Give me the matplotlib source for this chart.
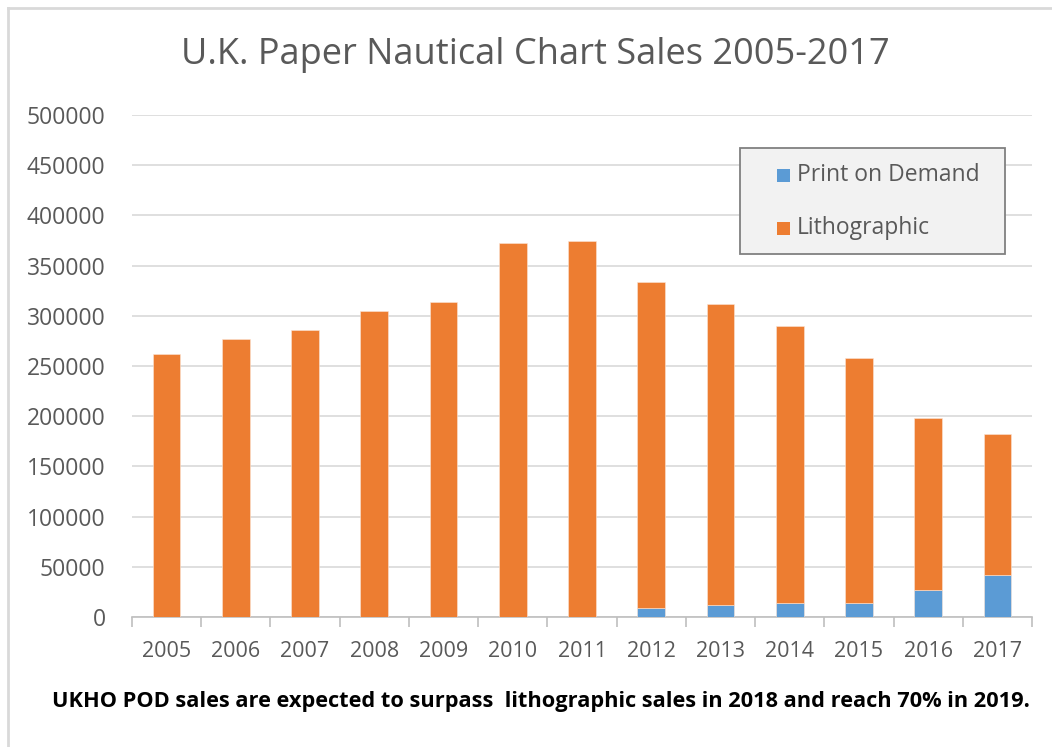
import matplotlib
matplotlib.use("Agg")
import matplotlib.pyplot as plt
from matplotlib.lines import Line2D
from matplotlib.patches import Rectangle
import numpy as np

years = ["2005", "2006", "2007", "2008", "2009", "2010", "2011",
         "2012", "2013", "2014", "2015", "2016", "2017"]
total_sales = [262000, 277000, 286000, 305000, 314000, 372500, 374500,
               333500, 311500, 290000, 257500, 198500, 182500]
pod_sales = [0, 0, 0, 0, 0, 0, 0, 9000, 11500, 13500, 13500, 26500, 42000]
litho_sales = [t - p for t, p in zip(total_sales, pod_sales)]
yticks = [0, 50000, 100000, 150000, 200000, 250000, 300000, 350000, 400000, 450000, 500000]
series_names = ["Print on Demand", "Lithographic"]

title = "U.K. Paper Nautical Chart Sales 2005-2017"
footnote = "UKHO POD sales are expected to surpass  lithographic sales in 2018 and reach 70% in 2019."

BLUE = "#5B9BD5"
ORANGE = "#ED7D31"
TXT = "#595959"
GRID = "#D9D9D9"

W, H = 1052, 747
fig = plt.figure(figsize=(W / 100, H / 100), dpi=100)
fig.patch.set_facecolor("white")


def fx(px):
    return px / W


def fy(py):
    return 1 - py / H


# outer border (top and left lines)
fig.add_artist(Line2D([fx(8), fx(8)], [0, fy(8)], transform=fig.transFigure,
                      color="#D9D9D9", lw=2))
fig.add_artist(Line2D([fx(8), 1], [fy(8), fy(8)], transform=fig.transFigure,
                      color="#D9D9D9", lw=2))

left, right, bottom, top = 132, 1032, 617, 115
ax = fig.add_axes([fx(left), fy(bottom), (right - left) / W, (bottom - top) / H])

x = np.arange(len(years))
bw = 0.40
ax.bar(x, pod_sales, bw, color=BLUE, label=series_names[0], zorder=3,
       edgecolor="#FBE5D6", linewidth=0.4)
ax.bar(x, litho_sales, bw, bottom=pod_sales, color=ORANGE, label=series_names[1], zorder=3,
       edgecolor="#FBE5D6", linewidth=0.4)

ax.set_xlim(-0.5, len(years) - 0.5)
ax.set_ylim(0, 500000)
ax.set_yticks(yticks)
ax.set_yticklabels([str(v) for v in yticks], fontfamily="Open Sans", fontsize=16.5, color=TXT)
ax.yaxis.grid(True, color=GRID, lw=1.2, zorder=0)
ax.tick_params(axis="y", length=0, pad=19)

ax.set_xticks(x)
ax.set_xticklabels(years, fontfamily="Open Sans", fontsize=15.5, color=TXT)
ax.set_xticks(np.arange(-0.5, len(years)), minor=True)
ax.tick_params(axis="x", which="major", length=0, pad=17)
ax.tick_params(axis="x", which="minor", length=7, color="#BFBFBF", width=1.2)

for s in ["top", "right", "left"]:
    ax.spines[s].set_visible(False)
ax.spines["bottom"].set_color("#BFBFBF")
ax.spines["bottom"].set_linewidth(1.2)

# legend (drawn as a framed box like the reference)
fig.add_artist(Rectangle((fx(740), fy(254)), fx(1005) - fx(740), fy(148) - fy(254),
                         transform=fig.transFigure, facecolor="#F2F2F2",
                         edgecolor="#808080", lw=1.3, zorder=5))
for i, (name, col) in enumerate(zip(series_names, [BLUE, ORANGE])):
    cy = 175 + 53 * i
    fig.add_artist(Rectangle((fx(777), fy(cy + 7)), fx(790) - fx(777), fy(cy - 6) - fy(cy + 7),
                             transform=fig.transFigure, facecolor=col, edgecolor="none", zorder=6))
    fig.text(fx(797), fy(cy), name, ha="left", va="center", fontfamily="Open Sans",
             fontsize=16.5, color=TXT, zorder=7)

fig.text(fx(535), fy(55), title, ha="center", va="center",
         fontfamily="Open Sans", fontsize=26, color=TXT)
fn = fig.text(fx(541), fy(701), footnote, ha="center", va="center",
              fontfamily="Open Sans", fontweight="bold", fontsize=14, color="black")

# fit footnote width to the reference span (~987 px)
fig.canvas.draw()
r = fig.canvas.get_renderer()
wpx = fn.get_window_extent(r).width
fn.set_fontsize(14 * 985 / wpx)

fig.savefig("out.png", dpi=100)
